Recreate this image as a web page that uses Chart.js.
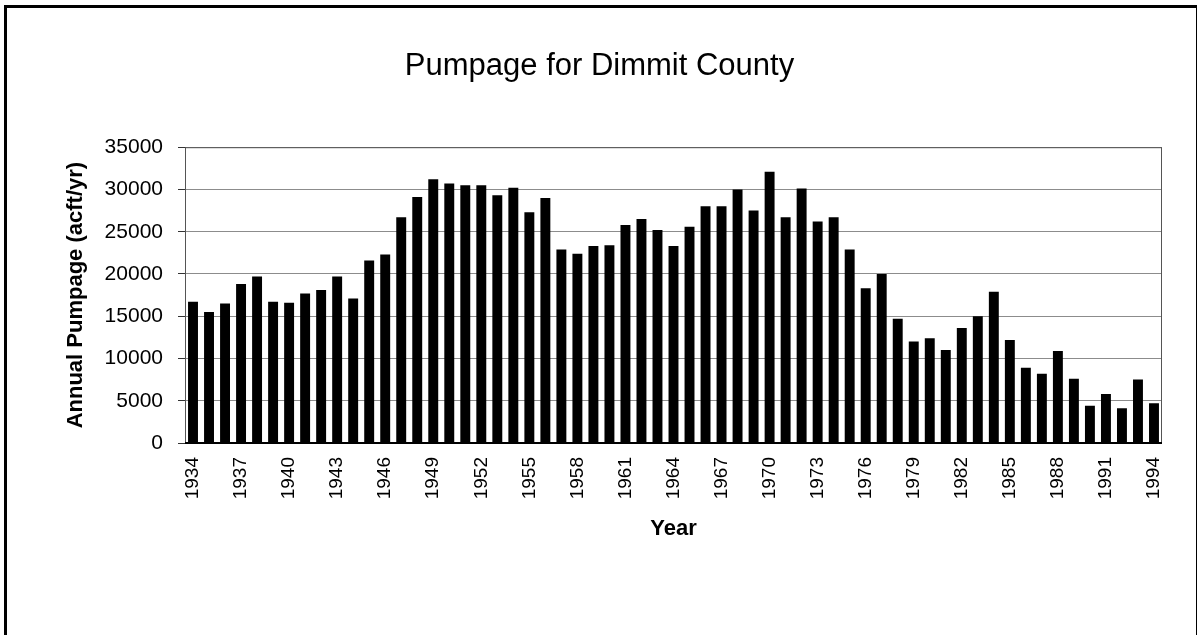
<!DOCTYPE html>
<html>
<head>
<meta charset="utf-8">
<script src="https://cdn.jsdelivr.net/npm/chart.js@4.4.0/dist/chart.umd.min.js"></script>
<style>
  html, body { margin: 0; padding: 0; background: #fff; }
</style>
</head>
<body>
<canvas id="canvas" width="1199" height="635"></canvas>
<script>
var years = ['1934','1935','1936','1937','1938','1939','1940','1941','1942','1943',
  '1944','1945','1946','1947','1948','1949','1950','1951','1952','1953',
  '1954','1955','1956','1957','1958','1959','1960','1961','1962','1963',
  '1964','1965','1966','1967','1968','1969','1970','1971','1972','1973',
  '1974','1975','1976','1977','1978','1979','1980','1981','1982','1983',
  '1984','1985','1986','1987','1988','1989','1990','1991','1992','1993','1994'];

var pumpage = [16700, 15500, 16500, 18800, 19700, 16700, 16600, 17700, 18100, 19700,
  17100, 21600, 22300, 26700, 29100, 31200, 30700, 30500, 30500, 29300,
  30200, 27300, 29000, 22900, 22400, 23300, 23400, 25800, 26500, 25200,
  23300, 25600, 28000, 28000, 30000, 27500, 32100, 26700, 30100, 26200,
  26700, 22900, 18300, 20000, 14700, 12000, 12400, 11000, 13600, 15000,
  17900, 12200, 8900, 8200, 10900, 7600, 4400, 5800, 4100, 7500, 4700];

var yTicks = [0, 5000, 10000, 15000, 20000, 25000, 30000, 35000];

var FONT = '"Liberation Sans", Arial, Helvetica, sans-serif';

// page frame + plot box
var framePlugin = {
  id: 'frame',
  beforeDraw: function(chart) {
    var ctx = chart.ctx;
    ctx.save();
    ctx.fillStyle = '#fff';
    ctx.fillRect(0, 0, chart.width, chart.height);
    ctx.fillStyle = '#000';
    ctx.fillRect(4, 5, 3, chart.height - 5);
    ctx.fillRect(4, 5, chart.width - 6, 3);
    ctx.fillRect(1196, 5, 1, chart.height - 5);
    ctx.restore();
  },
  afterDatasetsDraw: function(chart) {
    var a = chart.chartArea;
    var ctx = chart.ctx;
    ctx.save();
    ctx.strokeStyle = '#555';
    ctx.lineWidth = 1;
    ctx.strokeRect(a.left + 0.5, a.top + 0.5, a.right - a.left - 1, a.bottom - a.top);
    ctx.strokeStyle = '#000';
    ctx.lineWidth = 2;
    ctx.beginPath();
    ctx.moveTo(a.left, a.bottom);
    ctx.lineTo(a.right, a.bottom);
    ctx.stroke();
    ctx.restore();
  }
};

var ctx = document.getElementById('canvas').getContext('2d');
var myBar = new Chart(ctx, {
  type: 'bar',
  data: {
    labels: years,
    datasets: [{
      label: 'Pumpage',
      data: pumpage,
      backgroundColor: '#000',
      borderWidth: 0,
      categoryPercentage: 1.0,
      barPercentage: 0.62
    }]
  },
  plugins: [framePlugin],
  options: {
    responsive: false,
    animation: false,
    devicePixelRatio: 1,
    layout: { padding: { left: 37, right: 37, top: 0, bottom: 0 } },
    plugins: {
      legend: { display: false },
      tooltip: { enabled: false },
      title: {
        display: true,
        text: 'Pumpage for Dimmit County',
        color: '#000',
        font: { family: FONT, size: 31, weight: 'normal', lineHeight: 1.2 },
        padding: { top: 48, bottom: 62 }
      }
    },
    scales: {
      x: {
        afterFit: function(scale) { scale.height = 192; },
        grid: { display: false, drawTicks: false },
        border: { display: false },
        ticks: {
          autoSkip: false,
          minRotation: 90,
          maxRotation: 90,
          padding: 14,
          color: '#000',
          font: { family: FONT, size: 19 },
          callback: function(val, index) {
            return index % 3 === 0 ? this.getLabelForValue(val) : '';
          }
        },
        title: {
          display: true,
          text: 'Year',
          color: '#000',
          font: { family: FONT, size: 22, weight: 'bold', lineHeight: 1.2 },
          padding: { top: 0, bottom: 93 }
        }
      },
      y: {
        min: 0,
        max: 35000,
        afterFit: function(scale) { scale.width = 148; },
        afterBuildTicks: function(scale) {
          scale.ticks = yTicks.map(function(v) { return { value: v }; });
        },
        grid: {
          color: '#8c8c8c',
          lineWidth: 1,
          tickLength: 7,
          tickColor: '#333'
        },
        border: { display: true, color: '#333', width: 1 },
        ticks: {
          padding: 15,
          color: '#000',
          font: { family: FONT, size: 21 },
          callback: function(v) { return String(v); }
        },
        title: {
          display: true,
          text: 'Annual Pumpage (acft/yr)',
          color: '#000',
          font: { family: FONT, size: 22, weight: 'bold', lineHeight: 1.2 },
          padding: { top: 26, bottom: 0 }
        }
      }
    }
  }
});
</script>
</body>
</html>
